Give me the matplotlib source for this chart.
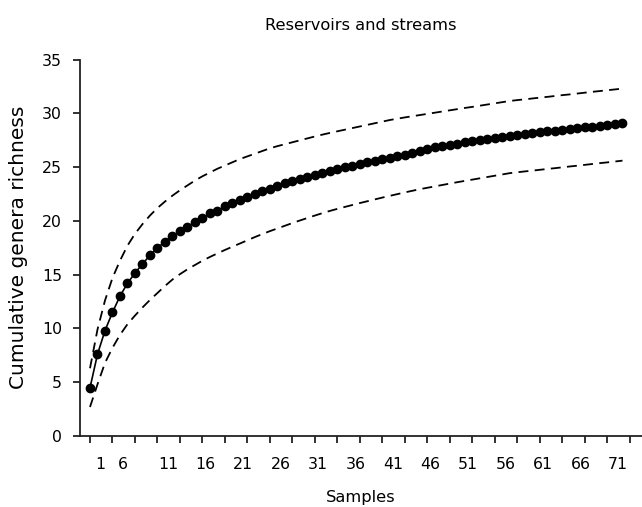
import numpy as np
import matplotlib
matplotlib.use("Agg")
import matplotlib.pyplot as plt

plt.rcParams['font.family'] = ['DejaVu Sans']

# mean cumulative genera richness per sample
richness = [4.48, 7.6, 9.8, 11.5, 13.0, 14.2, 15.15, 16.0, 16.8, 17.5,
            18.06, 18.6, 19.05, 19.45, 19.9, 20.25, 20.7, 20.96, 21.34, 21.65,
            21.95, 22.2, 22.5, 22.8, 23.0, 23.25, 23.5, 23.72, 23.9, 24.09,
            24.27, 24.47, 24.66, 24.84, 24.98, 25.12, 25.3, 25.45, 25.6, 25.72,
            25.85, 26.0, 26.15, 26.33, 26.5, 26.69, 26.84, 26.96, 27.09, 27.17,
            27.3, 27.4, 27.48, 27.58, 27.7, 27.8, 27.89, 27.98, 28.08, 28.17,
            28.26, 28.32, 28.39, 28.48, 28.54, 28.6, 28.7, 28.76, 28.85, 28.94,
            29.0, 29.07]

upper = [6.3, 9.9, 12.6, 14.7, 16.3, 17.7, 18.8, 19.7, 20.5, 21.2,
         21.8, 22.35, 22.85, 23.3, 23.75, 24.15, 24.5, 24.85, 25.15, 25.45,
         25.75, 26.0, 26.25, 26.5, 26.75, 26.95, 27.13, 27.31, 27.49, 27.67,
         27.85, 28.02, 28.18, 28.33, 28.48, 28.63, 28.78, 28.93, 29.08, 29.23,
         29.38, 29.5, 29.62, 29.73, 29.84, 29.95, 30.06, 30.17, 30.28, 30.39,
         30.5, 30.6, 30.71, 30.82, 30.93, 31.04, 31.15, 31.23, 31.3, 31.38,
         31.46, 31.53, 31.61, 31.69, 31.76, 31.84, 31.92, 32.0, 32.07, 32.15,
         32.22, 32.3]

lower = [2.7, 4.8, 6.8, 8.2, 9.4, 10.4, 11.2, 11.95, 12.65, 13.3,
         13.95, 14.55, 15.05, 15.5, 15.9, 16.3, 16.65, 16.98, 17.3, 17.6,
         17.9, 18.2, 18.5, 18.78, 19.05, 19.3, 19.55, 19.8, 20.04, 20.27,
         20.5, 20.72, 20.93, 21.12, 21.3, 21.48, 21.66, 21.83, 22.0, 22.17,
         22.33, 22.49, 22.65, 22.8, 22.95, 23.08, 23.21, 23.34, 23.47, 23.6,
         23.72, 23.84, 23.96, 24.08, 24.2, 24.32, 24.44, 24.52, 24.6, 24.67,
         24.75, 24.83, 24.9, 24.98, 25.06, 25.13, 25.21, 25.29, 25.37, 25.44,
         25.52, 25.6]

sample_labels = ['1', '6', '11', '16', '21', '26', '31', '36', '41', '46',
                 '51', '56', '61', '66', '71']
label_pos = [1.4, 4.4, 10.4, 15.4, 20.4, 25.4, 30.4, 35.4, 40.4, 45.4,
             50.4, 55.4, 60.4, 65.4, 70.4]

x = np.arange(len(richness))

fig = plt.figure(figsize=(6.42, 5.07), dpi=100)
ax = fig.add_axes([0.1246, 0.14, 0.8754, 0.7426])

ax.plot(x, upper, color='black', lw=1.3, dashes=(5.5, 3.5))
ax.plot(x, lower, color='black', lw=1.3, dashes=(5.5, 3.5))
ax.plot(x, richness, color='black', lw=1.2, marker='o', markersize=6)

ax.set_xlim(-1.333, 73.6)
ax.set_ylim(0, 35)
ax.set_yticks(np.arange(0, 36, 5))
ax.set_xticks(np.arange(0, 73, 3))
ax.set_xticklabels([])
ax.set_xticks(label_pos, sample_labels, minor=True)

for s in ['top', 'right']:
    ax.spines[s].set_visible(False)
for s in ['left', 'bottom']:
    ax.spines[s].set_linewidth(1.3)
    ax.spines[s].set_color('#222222')

ax.tick_params(axis='both', which='major', direction='out', length=5,
               width=1.3, color='#222222', labelsize=11.3)
ax.tick_params(axis='y', pad=8)
ax.tick_params(axis='x', which='minor', length=0, pad=15, labelsize=11.3)

ax.set_title('Reservoirs and streams', fontsize=11.7, pad=21)
ax.set_xlabel('Samples', fontsize=11.7)
ax.set_ylabel('Cumulative genera richness', fontsize=14.5)
ax.xaxis.set_label_coords(0.5, -0.143)
ax.yaxis.set_label_coords(-0.11, 0.5)
ax.yaxis.label.set_va('center')

fig.savefig('out.png', dpi=100)
